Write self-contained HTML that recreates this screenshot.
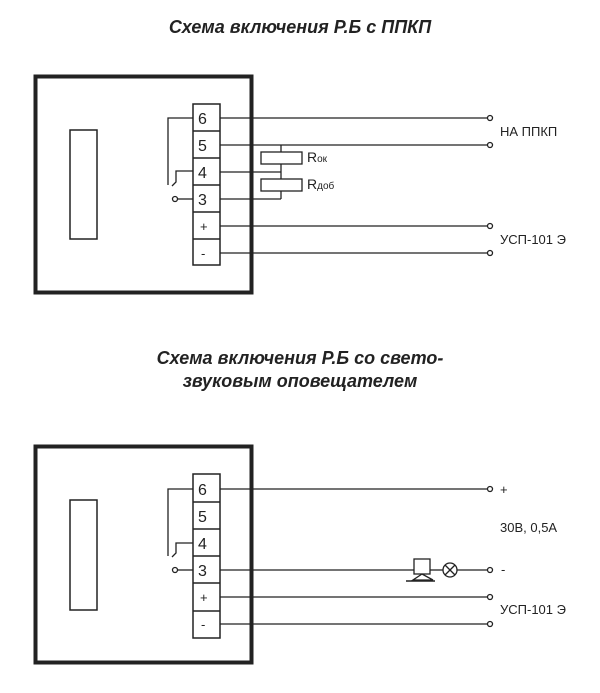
<!DOCTYPE html>
<html><head><meta charset="utf-8"><style>
html,body{margin:0;padding:0;background:#fff;}
svg{display:block;}
text{font-family:"Liberation Sans",sans-serif;fill:#222;}
</style></head><body>
<svg width="600" height="693" viewBox="0 0 600 693" xmlns="http://www.w3.org/2000/svg">
<g stroke="#222" fill="none">
<text x="300" y="33" text-anchor="middle" font-size="18" font-weight="bold" font-style="italic" stroke="none">Схема включения Р.Б с ППКП</text>
<rect x="35.5" y="76.5" width="216" height="216" stroke-width="4"/>
<rect x="70" y="130" width="27" height="109" stroke-width="1.5"/>
<g stroke-width="1.5">
<rect x="193" y="104" width="27" height="161" fill="#fff"/>
<line x1="193" y1="131" x2="220" y2="131"/><line x1="193" y1="158" x2="220" y2="158"/>
<line x1="193" y1="185" x2="220" y2="185"/><line x1="193" y1="212" x2="220" y2="212"/>
<line x1="193" y1="239" x2="220" y2="239"/>
</g>
<g stroke-width="1.3">
<polyline points="193,118 168,118 168,185"/>
<polyline points="193,171 176,171 176,182 172,186"/>
<line x1="193" y1="199" x2="177" y2="199"/>
<circle cx="175" cy="199" r="2.5" fill="#fff"/>
<line x1="220" y1="118" x2="487" y2="118"/><circle cx="490" cy="118" r="2.5" fill="#fff"/>
<line x1="220" y1="145" x2="487" y2="145"/><circle cx="490" cy="145" r="2.5" fill="#fff"/>
<line x1="220" y1="172" x2="281" y2="172"/>
<line x1="220" y1="199" x2="281" y2="199"/>
<line x1="220" y1="226" x2="487" y2="226"/><circle cx="490" cy="226" r="2.5" fill="#fff"/>
<line x1="220" y1="253" x2="487" y2="253"/><circle cx="490" cy="253" r="2.5" fill="#fff"/>
<line x1="281" y1="145" x2="281" y2="199"/>
<rect x="261" y="152" width="41" height="12" fill="#fff"/>
<rect x="261" y="179" width="41" height="12" fill="#fff"/>
</g>
<g stroke="none" font-size="16">
<text x="198" y="124">6</text><text x="198" y="151">5</text><text x="198" y="178">4</text><text x="198" y="205">3</text>
<text x="200" y="231" font-size="13">+</text><text x="201" y="258" font-size="13">-</text>
<text x="307" y="162" font-size="14">R<tspan font-size="10">ок</tspan></text>
<text x="307" y="189" font-size="14">R<tspan font-size="10">доб</tspan></text>
<text x="500" y="136" font-size="13">НА ППКП</text>
<text x="500" y="244" font-size="13">УСП-101 Э</text>
</g>
<text x="300" y="364" text-anchor="middle" font-size="18" font-weight="bold" font-style="italic" stroke="none">Схема включения Р.Б со свето-</text>
<text x="300" y="387" text-anchor="middle" font-size="18" font-weight="bold" font-style="italic" stroke="none">звуковым оповещателем</text>
<rect x="35.5" y="446.5" width="216" height="216" stroke-width="4"/>
<rect x="70" y="500" width="27" height="110" stroke-width="1.5"/>
<g stroke-width="1.5">
<rect x="193" y="474" width="27" height="164" fill="#fff"/>
<line x1="193" y1="502" x2="220" y2="502"/><line x1="193" y1="529" x2="220" y2="529"/>
<line x1="193" y1="556" x2="220" y2="556"/><line x1="193" y1="583" x2="220" y2="583"/>
<line x1="193" y1="611" x2="220" y2="611"/>
</g>
<g stroke-width="1.3">
<polyline points="193,489 168,489 168,556"/>
<polyline points="193,543 176,543 176,553 172,557"/>
<line x1="193" y1="570" x2="177" y2="570"/>
<circle cx="175" cy="570" r="2.5" fill="#fff"/>
<line x1="220" y1="489" x2="487" y2="489"/><circle cx="490" cy="489" r="2.5" fill="#fff"/>
<line x1="220" y1="570" x2="414" y2="570"/>
<rect x="414" y="559" width="16" height="15" fill="#fff"/>
<path d="M422,574 L413,580 L433,580 Z" fill="#fff"/>
<line x1="406" y1="581" x2="435" y2="581" stroke-width="1.6"/>
<line x1="430" y1="570" x2="443" y2="570"/>
<circle cx="450" cy="570" r="7" fill="#fff"/>
<line x1="445" y1="565" x2="455" y2="575"/><line x1="455" y1="565" x2="445" y2="575"/>
<line x1="457" y1="570" x2="487" y2="570"/><circle cx="490" cy="570" r="2.5" fill="#fff"/>
<line x1="220" y1="597" x2="487" y2="597"/><circle cx="490" cy="597" r="2.5" fill="#fff"/>
<line x1="220" y1="624" x2="487" y2="624"/><circle cx="490" cy="624" r="2.5" fill="#fff"/>
</g>
<g stroke="none" font-size="16">
<text x="198" y="495">6</text><text x="198" y="522">5</text><text x="198" y="549">4</text><text x="198" y="576">3</text>
<text x="200" y="602" font-size="13">+</text><text x="201" y="629" font-size="13">-</text>
<text x="500" y="494" font-size="13">+</text>
<text x="500" y="532" font-size="13">30В, 0,5А</text>
<text x="501" y="574" font-size="13">-</text>
<text x="500" y="614" font-size="13">УСП-101 Э</text>
</g>
</g>
</svg>
</body></html>
